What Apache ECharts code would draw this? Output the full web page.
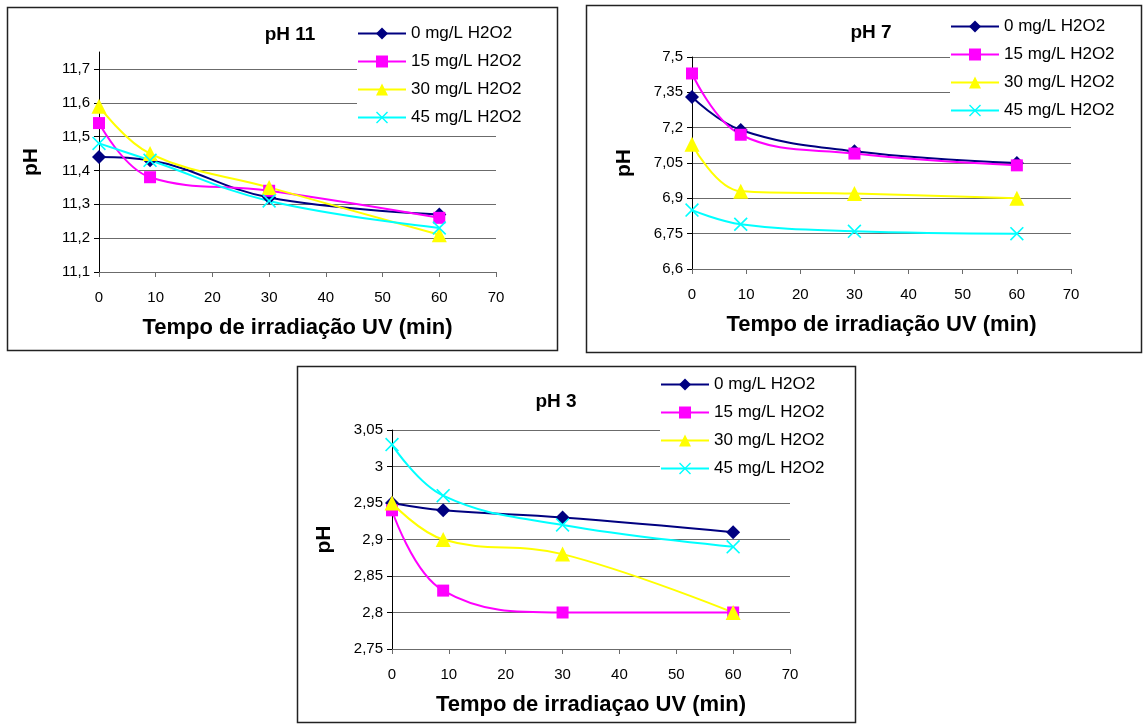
<!DOCTYPE html>
<html>
<head>
<meta charset="utf-8">
<script src="https://cdn.jsdelivr.net/npm/echarts@6/dist/echarts.min.js"></script>
<style>
  html, body { margin: 0; padding: 0; background: #fff; }
  #chart { width: 1143px; height: 724px; }
</style>
</head>
<body>
<div id="chart"></div>
<script>
// Irradiation time (min) shared by every series
const timeMin = [0, 9, 30, 60];
const seriesNames = ['0 mg/L H2O2', '15 mg/L H2O2', '30 mg/L H2O2', '45 mg/L H2O2'];

// pH 11 panel
const ph11_h0  = [11.44, 11.43, 11.32, 11.27];
const ph11_h15 = [11.54, 11.38, 11.34, 11.26];
const ph11_h30 = [11.59, 11.45, 11.35, 11.21];
const ph11_h45 = [11.48, 11.43, 11.31, 11.23];

// pH 7 panel
const ph7_h0  = [7.33, 7.19, 7.10, 7.05];
const ph7_h15 = [7.43, 7.17, 7.09, 7.04];
const ph7_h30 = [7.13, 6.93, 6.92, 6.90];
const ph7_h45 = [6.85, 6.79, 6.76, 6.75];

// pH 3 panel
const ph3_h0  = [2.95, 2.94, 2.93, 2.91];
const ph3_h15 = [2.94, 2.83, 2.80, 2.80];
const ph3_h30 = [2.95, 2.90, 2.88, 2.80];
const ph3_h45 = [3.03, 2.96, 2.92, 2.89];

// Tick labels
const xTicks = [0, 10, 20, 30, 40, 50, 60, 70];
const ph11Ticks = [11.1, 11.2, 11.3, 11.4, 11.5, 11.6, 11.7];
const ph7Ticks = [6.6, 6.75, 6.9, 7.05, 7.2, 7.35, 7.5];
const ph3Ticks = [2.75, 2.8, 2.85, 2.9, 2.95, 3, 3.05];

const FONT = '"Liberation Sans", Arial, sans-serif';
const colors = ['#000080', '#FF00FF', '#FFFF00', '#00FFFF'];
const crossPath = 'path://M0,1L1,0L6,5L11,0L12,1L7,6L12,11L11,12L6,7L1,12L0,11L5,6Z';
const symbols = ['diamond', 'rect', 'triangle', crossPath];
const symbolSizes = [14, 12, 15, 14];

const panels = [
  { title: 'pH 11', xName: 'Tempo de irradiação UV (min)', data: [ph11_h0, ph11_h15, ph11_h30, ph11_h45],
    ticks: ph11Ticks, min: 11.1, max: 11.75, interval: 0.1,
    box: [7, 7, 550, 343], grid: { left: 99, top: 52, width: 397, height: 220 },
    titlePos: [285, 20], legendPos: [357, 20], legendBg: [357, 12, 142, 108] },
  { title: 'pH 7', xName: 'Tempo de irradiação UV (min)', data: [ph7_h0, ph7_h15, ph7_h30, ph7_h45],
    ticks: ph7Ticks, min: 6.6, max: 7.5, interval: 0.15,
    box: [586, 5, 555, 347], grid: { left: 692, top: 57, width: 379, height: 212 },
    titlePos: [866, 18], legendPos: [950, 13], legendBg: [950, 8, 124, 106] },
  { title: 'pH 3', xName: 'Tempo de irradiaçao UV (min)', data: [ph3_h0, ph3_h15, ph3_h30, ph3_h45],
    ticks: ph3Ticks, min: 2.75, max: 3.05, interval: 0.05,
    box: [297, 366, 558, 356], grid: { left: 392, top: 430, width: 398, height: 219 },
    titlePos: [551, 387], legendPos: [660, 371], legendBg: [660, 370, 133, 110] }
];

function fmt(v) {
  return String(Number(v.toFixed(2))).replace('.', ',');
}

const grid = [], xAxis = [], yAxis = [], series = [], legend = [], title = [], graphic = [];

panels.forEach((p, i) => {
  grid.push(Object.assign({ containLabel: false }, p.grid));
  title.push({
    text: p.title, left: p.titlePos[0], top: p.titlePos[1], textAlign: 'center',
    textStyle: { fontFamily: FONT, fontSize: 19, fontWeight: 'bold', color: '#000' }
  });
  xAxis.push({
    type: 'value', gridIndex: i, min: 0, max: 70, interval: 10,
    name: p.xName, nameLocation: 'middle', nameGap: 45,
    nameTextStyle: { fontFamily: FONT, fontSize: 22, fontWeight: 'bold', color: '#000' },
    axisLine: { onZero: false, lineStyle: { color: '#6b6b6b', width: 1 } },
    axisTick: { show: true, inside: false, length: 5, lineStyle: { color: '#6b6b6b' } },
    axisLabel: { margin: 18, fontFamily: FONT, fontSize: 15, color: '#000',
      customValues: xTicks },
    splitLine: { show: false }
  });
  yAxis.push({
    type: 'value', gridIndex: i, min: p.min, max: p.max, interval: p.interval,
    name: 'pH', nameLocation: 'middle', nameGap: 57, nameRotate: 90,
    nameTextStyle: { fontFamily: FONT, fontSize: 21, fontWeight: 'bold', color: '#000' },
    axisLine: { show: true, lineStyle: { color: '#000', width: 1 } },
    axisTick: { show: true, inside: false, length: 5, lineStyle: { color: '#000' },
      customValues: p.ticks },
    axisLabel: { margin: 9, fontFamily: FONT, fontSize: 15, color: '#000',
      customValues: p.ticks, formatter: fmt },
    splitLine: { show: true, showMinLine: true, showMaxLine: true,
      lineStyle: { color: '#6b6b6b', width: 1 } }
  });
  legend.push({
    orient: 'vertical', left: p.legendPos[0], top: p.legendPos[1],
    data: seriesNames.map(n => ({ name: n })),
    padding: [5, 2, 2, 0],
    itemWidth: 48, itemHeight: 15, itemGap: 11,
    textStyle: { fontFamily: FONT, fontSize: 17, color: '#000', lineHeight: 15 },
    selectedMode: false,
    z: 5
  });
  // white legend box that hides the gridlines running behind it
  graphic.push({
    type: 'rect', silent: true, z: 1,
    shape: { x: p.legendBg[0], y: p.legendBg[1], width: p.legendBg[2], height: p.legendBg[3] },
    style: { fill: '#fff', stroke: null }
  });
  graphic.push({
    type: 'rect', silent: true, z: -1,
    shape: { x: p.box[0] + 0.5, y: p.box[1] + 0.5, width: p.box[2], height: p.box[3] },
    style: { fill: null, stroke: '#222', lineWidth: 1.5 }
  });
  p.data.forEach((vals, k) => {
    series.push({
      name: seriesNames[k], type: 'line', xAxisIndex: i, yAxisIndex: i,
      data: timeMin.map((t, j) => [t, vals[j]]),
      smooth: 0.4,
      symbol: symbols[k], symbolSize: symbolSizes[k],
      showAllSymbol: true,
      lineStyle: { color: colors[k], width: 2 },
      itemStyle: { color: colors[k] },
      emphasis: { disabled: true },
      animation: false
    });
  });
});

const chart = echarts.init(document.getElementById('chart'), null, { renderer: 'canvas' });
chart.setOption({
  backgroundColor: '#fff',
  animation: false,
  title, grid, xAxis, yAxis, legend, series, graphic
});
</script>
</body>
</html>
